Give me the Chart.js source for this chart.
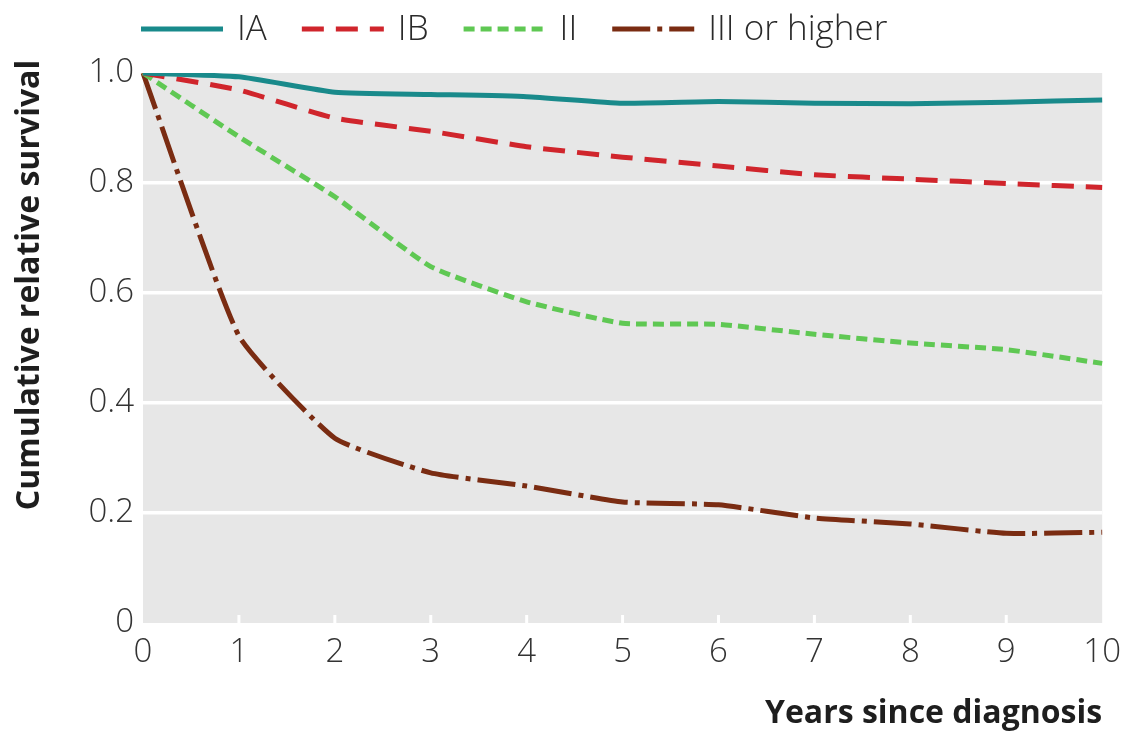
<!DOCTYPE html>
<html>
<head>
<meta charset="utf-8">
<script src="https://cdn.jsdelivr.net/npm/chart.js@4"></script>
<style>
  html, body { margin: 0; padding: 0; background: #fff; }
  #wrap { width: 1131px; height: 735px; }
</style>
</head>
<body>
<div id="wrap"><canvas id="survChart"></canvas></div>
<script>
// years since diagnosis
const years = [0, 1, 2, 3, 4, 5, 6, 7, 8, 9, 10];
const yTickLabels = ['0', '0.2', '0.4', '0.6', '0.8', '1.0'];

// cumulative relative survival per stage
const stageIA  = [1.0, 0.993, 0.965, 0.961, 0.957, 0.945, 0.948, 0.945, 0.944, 0.947, 0.951];
const stageIB  = [1.0, 0.969, 0.918, 0.894, 0.866, 0.847, 0.831, 0.815, 0.807, 0.799, 0.792];
const stageII  = [1.0, 0.884, 0.775, 0.648, 0.584, 0.545, 0.543, 0.525, 0.509, 0.497, 0.472];
const stageIII = [1.0, 0.522, 0.336, 0.273, 0.249, 0.220, 0.215, 0.191, 0.180, 0.163, 0.165];

const seriesNames = ['IA', 'IB', 'II', 'III or higher'];
const seriesColors = ['#198a8b', '#d0252c', '#5fc853', '#7a2c12'];
const seriesDash = [[], [22, 12], [11, 6], [38, 7, 5, 7]];

const FONT = '"Open Sans", "Noto Sans", sans-serif';
const plotBg = '#e7e7e7';

// grey plot background + little white ticks along the bottom
const plotBackground = {
  id: 'plotBackground',
  beforeDraw(chart) {
    const {ctx, chartArea: a} = chart;
    ctx.save();
    ctx.fillStyle = plotBg;
    ctx.fillRect(a.left, a.top, a.right - a.left, a.bottom - a.top);
    ctx.strokeStyle = '#ffffff';
    ctx.lineWidth = 3;
    const xs = chart.scales.x;
    for (let i = 1; i < years.length - 1; i++) {
      const px = xs.getPixelForValue(i);
      ctx.beginPath();
      ctx.moveTo(px, a.bottom - 8);
      ctx.lineTo(px, a.bottom);
      ctx.stroke();
    }
    ctx.restore();
  }
};

// legend row and rotated y title
const decorations = {
  id: 'decorations',
  afterDraw(chart) {
    const ctx = chart.ctx;
    ctx.save();
    ctx.font = '300 35px ' + FONT;
    ctx.textBaseline = 'middle';
    ctx.textAlign = 'left';
    let x = 141;
    const y = 29;
    chart.data.datasets.forEach((ds) => {
      ctx.strokeStyle = ds.borderColor;
      ctx.lineWidth = 5;
      ctx.setLineDash(ds.borderDash);
      ctx.beginPath();
      ctx.moveTo(x, y);
      ctx.lineTo(x + 82, y);
      ctx.stroke();
      ctx.setLineDash([]);
      ctx.fillStyle = '#2a2a2a';
      ctx.fillText(ds.label, x + 96, y + 1);
      x += 96 + ctx.measureText(ds.label).width + 35;
    });

    ctx.translate(30, 285);
    ctx.rotate(-Math.PI / 2);
    ctx.font = 'bold 32px ' + FONT;
    ctx.textAlign = 'center';
    ctx.fillStyle = '#1e1e1e';
    ctx.fillText('Cumulative relative survival', 0, 0);
    ctx.restore();
  }
};

const seriesData = [stageIA, stageIB, stageII, stageIII];

new Chart(document.getElementById('survChart'), {
  type: 'line',
  data: {
    labels: years,
    datasets: seriesData.map((vals, i) => ({
      label: seriesNames[i],
      data: vals,
      borderColor: seriesColors[i],
      borderDash: seriesDash[i],
      borderWidth: 5,
      borderCapStyle: 'butt',
      pointRadius: 0,
      tension: 0.15,
      fill: false
    }))
  },
  options: {
    responsive: true,
    maintainAspectRatio: false,
    animation: false,
    layout: { padding: { left: 60, right: 13, top: 73, bottom: 0 } },
    plugins: {
      legend: { display: false },
      tooltip: { enabled: false }
    },
    scales: {
      x: {
        afterFit: (scale) => { scale.height = 112; },
        grid: { display: false, drawTicks: false },
        border: { display: false },
        ticks: {
          padding: 10,
          maxRotation: 0,
          color: '#333',
          font: { family: FONT, size: 33, weight: '300' }
        },
        title: {
          display: true,
          text: 'Years since diagnosis',
          align: 'end',
          color: '#1e1e1e',
          padding: { top: 0, bottom: 2 },
          font: { family: FONT, size: 32, weight: 'bold' }
        }
      },
      y: {
        min: 0,
        max: 1,
        afterFit: (scale) => { scale.width = 83; },
        grid: {
          drawTicks: false,
          lineWidth: 3.5,
          color: (c) => (c.tick && (c.tick.value <= 0 || c.tick.value >= 1)) ? 'rgba(0,0,0,0)' : '#ffffff'
        },
        border: { display: false },
        ticks: {
          stepSize: 0.2,
          padding: 9,
          color: '#333',
          font: { family: FONT, size: 33, weight: '300' },
          callback: (v, i) => yTickLabels[i]
        }
      }
    }
  },
  plugins: [plotBackground, decorations]
});
</script>
</body>
</html>
